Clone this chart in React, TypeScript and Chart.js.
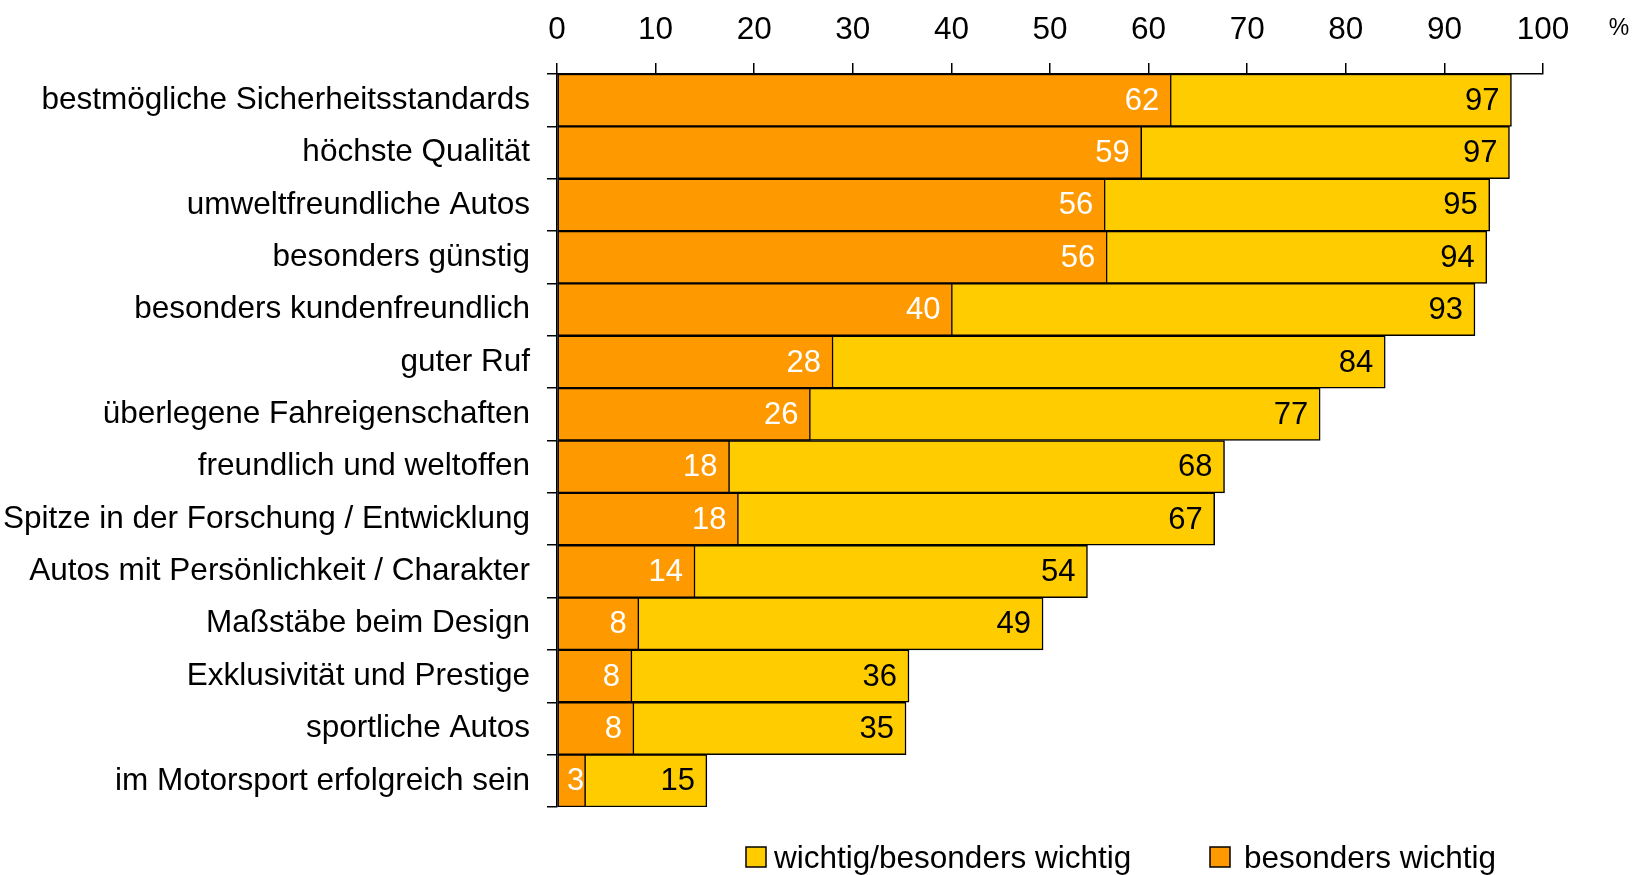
import React, { useEffect, useRef } from "react";
import { Chart, registerables } from "chart.js";

Chart.register(...registerables);

const categories = [
  "bestmögliche Sicherheitsstandards",
  "höchste Qualität",
  "umweltfreundliche Autos",
  "besonders günstig",
  "besonders kundenfreundlich",
  "guter Ruf",
  "überlegene Fahreigenschaften",
  "freundlich und weltoffen",
  "Spitze in der Forschung / Entwicklung",
  "Autos mit Persönlichkeit / Charakter",
  "Maßstäbe beim Design",
  "Exklusivität und Prestige",
  "sportliche Autos",
  "im Motorsport erfolgreich sein",
];

const wichtigValues = [96.8, 96.6, 94.6, 94.3, 93.1, 84.0, 77.4, 67.7, 66.7, 53.8, 49.3, 35.7, 35.4, 15.2];
const besondersValues = [62.3, 59.3, 55.6, 55.8, 40.1, 28.0, 25.7, 17.5, 18.4, 14.0, 8.3, 7.6, 7.8, 2.9];

const xTicks = [0, 10, 20, 30, 40, 50, 60, 70, 80, 90, 100];
const seriesNames = ["wichtig/besonders wichtig", "besonders wichtig"];
const seriesColors = ["#FFCC00", "#FF9900"];
const labelColors = ["#000000", "#FFFFFF"];

const FONT = "'Liberation Sans', Arial, sans-serif";

const overlayPlugin = {
  id: "overlay",
  afterDatasetsDraw(chart: any) {
    const ctx = chart.ctx;
    ctx.save();
    ctx.font = `31px ${FONT}`;
    ctx.textBaseline = "middle";
    chart.data.datasets.forEach((ds: any, di: number) => {
      const meta = chart.getDatasetMeta(di);
      meta.data.forEach((el: any, i: number) => {
        const txt = String(Math.round(ds.data[i]));
        const w = ctx.measureText(txt).width;
        const base = el.base;
        let right = el.x - 12;
        if (right - w < base + 2) {
          right = (base + el.x) / 2 + w / 2 + 4;
        }
        ctx.fillStyle = labelColors[di];
        ctx.textAlign = "right";
        ctx.fillText(txt, right, el.y + 1);
      });
    });
    ctx.restore();
  },
  afterDraw(chart: any) {
    const ctx = chart.ctx;
    ctx.save();
    ctx.fillStyle = "#000";
    ctx.font = `23px ${FONT}`;
    ctx.textAlign = "center";
    ctx.textBaseline = "middle";
    ctx.fillText("%", 1619, 29);

    // legend
    const items = [
      { box: 746, text: 774 },
      { box: 1210, text: 1244 },
    ];
    ctx.font = `31.5px ${FONT}`;
    ctx.textAlign = "left";
    items.forEach((it, i) => {
      ctx.fillStyle = seriesColors[i];
      ctx.fillRect(it.box, 847, 20, 20);
      ctx.strokeStyle = "#000";
      ctx.lineWidth = 1.5;
      ctx.strokeRect(it.box, 847, 20, 20);
      ctx.fillStyle = "#000";
      ctx.fillText(seriesNames[i], it.text, 859);
    });
    ctx.restore();
  },
};

export default function App() {
  const ref = useRef<HTMLCanvasElement>(null);
  useEffect(() => {
    if (!ref.current) return;
    const chart = new Chart(ref.current, {
      type: "bar",
      data: {
        labels: categories,
        datasets: [
          {
            label: seriesNames[0],
            data: wichtigValues,
            backgroundColor: seriesColors[0],
            borderColor: "#000",
            borderWidth: 1.5,
            borderSkipped: false,
            grouped: false,
            order: 2,
            barPercentage: 1,
            categoryPercentage: 1,
          },
          {
            label: seriesNames[1],
            data: besondersValues,
            backgroundColor: seriesColors[1],
            borderColor: "#000",
            borderWidth: 1.5,
            borderSkipped: false,
            grouped: false,
            order: 1,
            barPercentage: 1,
            categoryPercentage: 1,
          },
        ] as any,
      },
      options: {
        indexAxis: "y",
        responsive: false,
        animation: false,
        devicePixelRatio: 1,
        layout: { padding: { left: 0, top: 0, right: 92, bottom: 68 } },
        plugins: {
          legend: { display: false },
          tooltip: { enabled: false },
        },
        scales: {
          x: {
            position: "top",
            min: 0,
            max: 100,
            afterFit: (s: any) => {
              s.height = 74;
            },
            afterBuildTicks: (s: any) => {
              s.ticks = xTicks.map((v) => ({ value: v }));
            },
            ticks: {
              color: "#000",
              font: { family: FONT, size: 31.5 },
              padding: 14,
              maxRotation: 0,
            },
            grid: {
              drawOnChartArea: false,
              drawTicks: true,
              tickLength: 11,
              color: "#000",
              lineWidth: 1.5,
            },
            border: { display: true, color: "#000", width: 1.5 },
          },
          y: {
            afterFit: (s: any) => {
              s.width = 557;
            },
            ticks: {
              color: "#000",
              font: { family: FONT, size: 31.5 },
              padding: 17,
            },
            grid: {
              drawOnChartArea: false,
              drawTicks: true,
              tickLength: 10,
              color: "#000",
              lineWidth: 1.5,
              offset: true,
            },
            border: { display: true, color: "#000", width: 1.5 },
          },
        },
      } as any,
      plugins: [overlayPlugin],
    });
    return () => chart.destroy();
  }, []);
  return (
    <div style={{ position: "absolute", left: 0, top: 0, width: 1635, height: 875, background: "#fff" }}>
      <canvas ref={ref} width={1635} height={875} />
    </div>
  );
}
